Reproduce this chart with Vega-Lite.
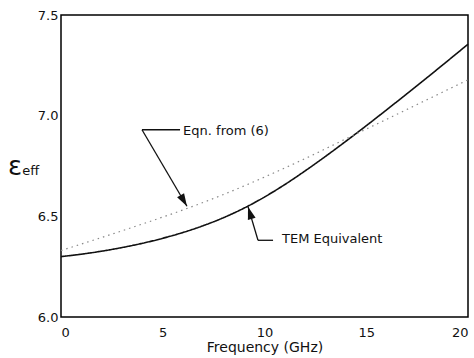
{
  "$schema": "https://vega.github.io/schema/vega-lite/v6.json",
  "width": 407,
  "height": 302,
  "autosize": {"type": "none"},
  "padding": {"left": 61, "top": 15, "right": 6, "bottom": 41},
  "background": "white",
  "config": {
    "view": {"stroke": "black", "strokeWidth": 1.5},
    "font": "DejaVu Sans",
    "axis": {"grid": false, "domain": false, "ticks": false, "labelColor": "#111", "titleColor": "#111", "labelFont": "DejaVu Sans", "titleFont": "DejaVu Sans"}
  },
  "datasets": {
    "curves": [
      {"f": 0, "e": 6.300, "s": "TEM"}, {"f": 1, "e": 6.312, "s": "TEM"}, {"f": 2, "e": 6.327, "s": "TEM"},
      {"f": 3, "e": 6.345, "s": "TEM"}, {"f": 4, "e": 6.366, "s": "TEM"}, {"f": 5, "e": 6.391, "s": "TEM"},
      {"f": 6, "e": 6.420, "s": "TEM"}, {"f": 7, "e": 6.454, "s": "TEM"}, {"f": 8, "e": 6.494, "s": "TEM"},
      {"f": 9, "e": 6.541, "s": "TEM"}, {"f": 10, "e": 6.596, "s": "TEM"}, {"f": 11, "e": 6.658, "s": "TEM"},
      {"f": 12, "e": 6.726, "s": "TEM"}, {"f": 13, "e": 6.798, "s": "TEM"}, {"f": 14, "e": 6.873, "s": "TEM"},
      {"f": 15, "e": 6.950, "s": "TEM"}, {"f": 16, "e": 7.029, "s": "TEM"}, {"f": 17, "e": 7.109, "s": "TEM"},
      {"f": 18, "e": 7.190, "s": "TEM"}, {"f": 19, "e": 7.272, "s": "TEM"}, {"f": 20, "e": 7.355, "s": "TEM"},
      {"f": 0, "e": 6.330, "s": "Eqn"}, {"f": 2, "e": 6.395, "s": "Eqn"}, {"f": 4, "e": 6.462, "s": "Eqn"},
      {"f": 6, "e": 6.532, "s": "Eqn"}, {"f": 8, "e": 6.609, "s": "Eqn"}, {"f": 10, "e": 6.695, "s": "Eqn"},
      {"f": 12, "e": 6.787, "s": "Eqn"}, {"f": 14, "e": 6.885, "s": "Eqn"}, {"f": 16, "e": 6.982, "s": "Eqn"},
      {"f": 18, "e": 7.080, "s": "Eqn"}, {"f": 20, "e": 7.178, "s": "Eqn"}
    ],
    "segs": [
      {"f": 3.98, "e": 6.93, "f2": 5.85, "e2": 6.93},
      {"f": 3.98, "e": 6.93, "f2": 6.19, "e2": 6.55},
      {"f": 9.68, "e": 6.381, "f2": 10.42, "e2": 6.381},
      {"f": 9.68, "e": 6.381, "f2": 9.19, "e2": 6.548}
    ],
    "heads": [
      {"f": 6.19, "e": 6.55, "a": 150},
      {"f": 9.19, "e": 6.548, "a": 343}
    ],
    "labels": [
      {"f": 6.0, "e": 6.925, "t": "Eqn. from (6)", "sz": 13},
      {"f": 10.86, "e": 6.386, "t": "TEM Equivalent", "sz": 13}
    ],
    "ylab": [
      {"f": -2.6, "e": 6.745, "t": "ε", "sz": 26},
      {"f": -1.9, "e": 6.725, "t": "eff", "sz": 13}
    ]
  },
  "layer": [
    {
      "data": {"name": "curves"},
      "mark": {"type": "line", "interpolate": "monotone"},
      "encoding": {
        "x": {"field": "f", "type": "quantitative", "scale": {"domain": [0, 20], "nice": false, "zero": false},
              "axis": {"values": [0, 5, 10, 15, 20], "format": "d", "title": "Frequency (GHz)", "labelFontSize": 13, "titleFontSize": 14, "titleFontWeight": "normal", "labelPadding": 9, "titlePadding": 1}},
        "y": {"field": "e", "type": "quantitative", "scale": {"domain": [6, 7.5], "nice": false, "zero": false},
              "axis": {"values": [6, 6.5, 7, 7.5], "format": ".1f", "title": null, "labelFontSize": 13, "labelPadding": 3}},
        "color": {"field": "s", "type": "nominal", "scale": {"domain": ["TEM", "Eqn"], "range": ["#111111", "#888888"]}, "legend": null},
        "strokeDash": {"field": "s", "type": "nominal", "scale": {"domain": ["TEM", "Eqn"], "range": [[1, 0], [1.5, 4]]}, "legend": null},
        "strokeWidth": {"field": "s", "type": "nominal", "scale": {"domain": ["TEM", "Eqn"], "range": [1.6, 1.2]}, "legend": null}
      }
    },
    {
      "data": {"name": "segs"},
      "mark": {"type": "rule", "color": "#111", "strokeWidth": 1.3},
      "encoding": {
        "x": {"field": "f", "type": "quantitative"},
        "y": {"field": "e", "type": "quantitative"},
        "x2": {"field": "f2"},
        "y2": {"field": "e2"}
      }
    },
    {
      "data": {"name": "heads"},
      "mark": {"type": "point", "filled": true, "color": "#111", "opacity": 1, "size": 180, "shape": "M0,0L-0.6,1.9L0.6,1.9Z"},
      "encoding": {
        "x": {"field": "f", "type": "quantitative"},
        "y": {"field": "e", "type": "quantitative"},
        "angle": {"field": "a", "type": "quantitative", "scale": null}
      }
    },
    {
      "data": {"name": "labels"},
      "mark": {"type": "text", "align": "left", "baseline": "middle", "color": "#111"},
      "encoding": {
        "x": {"field": "f", "type": "quantitative"},
        "y": {"field": "e", "type": "quantitative"},
        "text": {"field": "t"},
        "size": {"field": "sz", "type": "quantitative", "scale": null}
      }
    },
    {
      "data": {"name": "ylab"},
      "mark": {"type": "text", "align": "left", "baseline": "middle", "color": "#111"},
      "encoding": {
        "x": {"field": "f", "type": "quantitative"},
        "y": {"field": "e", "type": "quantitative"},
        "text": {"field": "t"},
        "size": {"field": "sz", "type": "quantitative", "scale": null}
      }
    }
  ]
}
